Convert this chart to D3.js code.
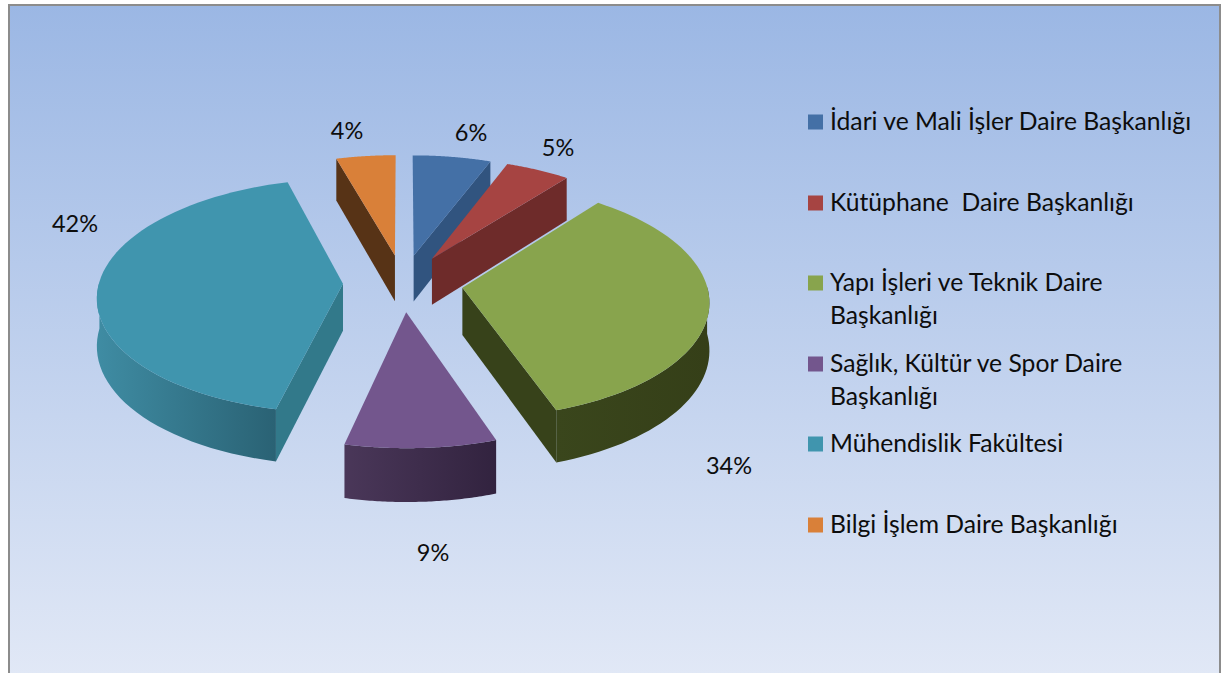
<!DOCTYPE html>
<html lang="tr">
<head>
<meta charset="utf-8">
<title>Pie</title>
<script src="https://cdn.jsdelivr.net/npm/d3@7"></script>
<style>
    html, body { margin: 0; padding: 0; background: #fff; }
    svg { display: block; }
    text { font-family: Lato, "Open Sans", sans-serif; fill: #0d0d0d; }
</style>
</head>
<body>
<svg id="chart" width="1224" height="673"></svg>
<script>
// Data
const categories = [
    'İdari ve Mali İşler Daire Başkanlığı',
    'Kütüphane  Daire Başkanlığı',
    'Yapı İşleri ve Teknik Daire Başkanlığı',
    'Sağlık, Kültür ve Spor Daire Başkanlığı',
    'Mühendislik Fakültesi',
    'Bilgi İşlem Daire Başkanlığı'
];
// Estimated from the slice edges, the labels show these rounded
const values = [5.8, 4.8, 34.15, 8.8, 42, 4.4];

// Colours per slice
const topColors = ['#4470a6', '#a64442', '#88a44d', '#73568d', '#4095ae', '#d98039'];
const cutColors = ['#31547f', '#6e2b2a', '#37421a', '#42314f', '#32798a', '#573316'];
const wallLeft = ['#3a5f8e', '#7c3331', '#3a461c', '#4a3759', '#3f8ca3', '#6b3f1a'];
const wallRight = ['#2c4a70', '#5f2524', '#353f18', '#32233f', '#2a6274', '#4f2f14'];

// Wrapped legend lines and where the label sits, by hand like the original
const legendLines = [
    ['İdari ve Mali İşler Daire Başkanlığı'],
    ['Kütüphane  Daire Başkanlığı'],
    ['Yapı İşleri ve Teknik Daire', 'Başkanlığı'],
    ['Sağlık, Kültür ve Spor Daire', 'Başkanlığı'],
    ['Mühendislik Fakültesi'],
    ['Bilgi İşlem Daire Başkanlığı']
];
const legendY = [122, 203, 283, 364, 444, 525];
const labelPos = [[471, 133], [558, 148], [729, 466], [433, 553], [75, 224], [347, 131]];

// Pie geometry
const cx = 403, cy = 283,
    radius = 244,
    explode = 60,
    tilt = 0.4745, // vertical squash
    persp = 0.127, // front of the pie is closer than the back
    depth = 47;

const svg = d3.select('#chart');
const defs = svg.append('defs');

const bgGrad = defs.append('linearGradient')
    .attr('id', 'bg').attr('x1', 0).attr('y1', 0).attr('x2', 0).attr('y2', 1);
bgGrad.append('stop').attr('offset', '0%').attr('stop-color', '#9bb7e4');
bgGrad.append('stop').attr('offset', '100%').attr('stop-color', '#e1e8f6');

svg.append('rect')
    .attr('x', 9).attr('y', 5).attr('width', 1211).attr('height', 670)
    .attr('fill', 'url(#bg)').attr('stroke', '#8c8c8c').attr('stroke-width', 2);

/**
 * Plan position (px right, py towards the viewer) to screen, h = height above base.
 */
const maxReach = radius + explode;
function project(px, py, h) {
    const s = 1 / (1 - persp * py / maxReach);
    return [cx + px * s, cy + py * tilt * s + h * s];
}

const pie = d3.pie().sort(null).value(d => d);
const arcs = pie(values);

// Slices are painted back to front
const order = [5, 0, 1, 4, 2, 3];
const line = d3.line();
const sliceG = svg.append('g').attr('class', 'slices');

order.forEach(i => {
    const a = arcs[i];
    const mid = (a.startAngle + a.endAngle) / 2;
    const ox = explode * Math.sin(mid), oy = -explode * Math.cos(mid);
    const edge = (t, h) => project(ox + radius * Math.sin(t), oy - radius * Math.cos(t), h);
    const apex = h => project(ox, oy, h);
    const g = sliceG.append('g');

    const steps = d3.range(0, 61).map(k => a.startAngle + (a.endAngle - a.startAngle) * k / 60);

    // radial cut walls facing the viewer
    [a.startAngle, a.endAngle].forEach((t, idx) => {
        const visible = idx === 0 ? Math.sin(t) < -1e-6 : Math.sin(t) > 1e-6;
        if (!visible) return;
        g.append('path')
            .attr('d', line([apex(0), edge(t, 0), edge(t, depth), apex(depth)]) + 'Z')
            .attr('fill', cutColors[i]);
    });

    // outer wall on the front half
    const front = steps.filter(t => Math.cos(t) < 0.02);
    if (front.length > 1) {
        const topEdge = front.map(t => edge(t, 0));
        const botEdge = front.map(t => edge(t, depth)).reverse();
        const xs = d3.extent(topEdge, d => d[0]);
        const grad = defs.append('linearGradient')
            .attr('id', 'wall' + i)
            .attr('gradientUnits', 'userSpaceOnUse')
            .attr('x1', xs[0]).attr('x2', xs[1]).attr('y1', 0).attr('y2', 0);
        grad.append('stop').attr('offset', '0%').attr('stop-color', wallLeft[i]);
        grad.append('stop').attr('offset', '100%').attr('stop-color', wallRight[i]);
        g.append('path')
            .attr('d', line(topEdge.concat(botEdge)) + 'Z')
            .attr('fill', `url(#wall${i})`);
    }

    // top face
    g.append('path')
        .attr('d', line([apex(0)].concat(steps.map(t => edge(t, 0)))) + 'Z')
        .attr('fill', topColors[i]);
});

// Percent labels
svg.append('g').selectAll('text')
    .data(values)
    .join('text')
    .attr('x', (d, i) => labelPos[i][0])
    .attr('y', (d, i) => labelPos[i][1])
    .attr('dy', '0.35em')
    .attr('text-anchor', 'middle')
    .style('font-size', '23.5px')
    .text(d => Math.round(d) + '%');

// Legend
const legend = svg.append('g').selectAll('g')
    .data(categories)
    .join('g')
    .attr('transform', (d, i) => `translate(808,${legendY[i]})`);

legend.append('rect')
    .attr('y', -7.5)
    .attr('width', 15).attr('height', 15)
    .attr('fill', (d, i) => topColors[i]);

legend.append('text')
    .attr('x', 22)
    .style('font-size', '24.7px')
    .style('white-space', 'pre')
    .attr('xml:space', 'preserve')
    .selectAll('tspan')
    .data((d, i) => legendLines[i])
    .join('tspan')
    .attr('x', 22)
    .attr('y', (d, j) => j * 33)
    .attr('dy', '0.33em')
    .text(d => d);
</script>
</body>
</html>
